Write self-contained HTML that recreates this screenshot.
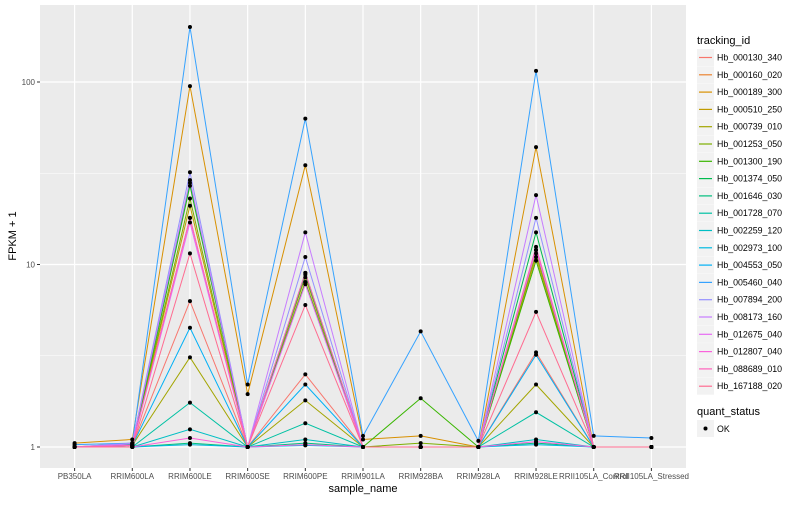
<!DOCTYPE html>
<html><head><meta charset="utf-8"><style>
body{margin:0;background:#fff;}
svg text{font-family:"Liberation Sans",sans-serif;}
</style></head><body>
<svg id="chart" width="800" height="500"></svg>
<script>
const samples=["PB350LA","RRIM600LA","RRIM600LE","RRIM600SE","RRIM600PE","RRIM901LA","RRIM928BA","RRIM928LA","RRIM928LE","RRII105LA_Control","RRII105LA_Stressed"];
const ids=["Hb_000130_340","Hb_000160_020","Hb_000189_300","Hb_000510_250","Hb_000739_010","Hb_001253_050","Hb_001300_190","Hb_001374_050","Hb_001646_030","Hb_001728_070","Hb_002259_120","Hb_002973_100","Hb_004553_050","Hb_005460_040","Hb_007894_200","Hb_008173_160","Hb_012675_040","Hb_012807_040","Hb_088689_010","Hb_167188_020"];
const s00=[1.0,1.02,6.3,1.0,2.5,1.0,1.0,1.0,3.3,1.0,1.0];
const s01=[1.0,1.05,18,1.0,8.0,1.0,1.0,1.0,12,1.0,1.0];
const s02=[1.05,1.1,95,1.95,35,1.1,1.15,1.0,44,1.0,1.0];
const s03=[1.0,1.03,21,1.0,8.5,1.0,1.0,1.0,11,1.0,1.0];
const s04=[1.0,1.02,3.1,1.0,1.8,1.0,1.0,1.0,2.2,1.0,1.0];
const s05=[1.0,1.02,23,1.0,9.0,1.0,1.05,1.0,11.5,1.0,1.0];
const s06=[1.0,1.0,27,1.0,8.0,1.0,1.85,1.0,10.5,1.0,1.0];
const s07=[1.0,1.03,28,1.0,8.8,1.0,1.0,1.0,15,1.0,1.0];
const s08=[1.0,1.0,1.05,1.0,1.05,1.0,1.0,1.0,1.05,1.0,1.0];
const s09=[1.0,1.0,1.75,1.0,1.35,1.0,1.0,1.0,1.55,1.0,1.0];
const s10=[1.0,1.0,1.25,1.0,1.1,1.0,1.0,1.0,1.1,1.0,1.0];
const s11=[1.0,1.0,1.03,1.0,1.02,1.0,1.0,1.0,1.03,1.0,1.0];
const s12=[1.0,1.02,4.5,1.0,2.2,1.0,1.0,1.0,3.2,1.0,1.0];
const s13=[1.03,1.05,200,2.2,63,1.15,4.3,1.08,115,1.15,1.12];
const s14=[1.0,1.05,32,1.0,11,1.0,1.0,1.0,18,1.0,1.0];
const s15=[1.0,1.04,29,1.0,15,1.0,1.0,1.0,24,1.0,1.0];
const s16=[1.0,1.02,17,1.0,7.8,1.0,1.0,1.0,12,1.0,1.0];
const s17=[1.0,1.0,1.12,1.0,1.03,1.0,1.0,1.0,1.07,1.0,1.0];
const s18=[1.0,1.02,18,1.0,9.0,1.0,1.0,1.0,12.5,1.0,1.0];
const s19=[1.0,1.0,11.5,1.0,6.0,1.0,1.0,1.0,5.5,1.0,1.0];
const series=[s00,s01,s02,s03,s04,s05,s06,s07,s08,s09,s10,s11,s12,s13,s14,s15,s16,s17,s18,s19];
const yTicks=[1,10,100];
const yTickLabels=["1","10","100"];
const colors=["#F8766D","#EA8331","#D89000","#C09B00","#A3A500","#7CAE00","#39B600","#00BB4E","#00BF7D","#00C1A3","#00BFC4","#00BAE0","#00B0F6","#35A2FF","#9590FF","#C77CFF","#E76BF3","#FA62DB","#FF62BC","#FF6C91"];

const NS="http://www.w3.org/2000/svg";
const svg=document.getElementById('chart');
function mk(tag,attrs,parent){const e=document.createElementNS(NS,tag);for(const k in attrs)e.setAttribute(k,attrs[k]);(parent||svg).appendChild(e);return e;}
const L=40,R=686,T=5,B=468;
const step=(R-L)/(samples.length-1+1.2);
function xs(i){return L+0.6*step+i*step;}
function ys(v){return 447-Math.log10(v)*182.5;}

const panel=mk('rect',{x:L,y:T,width:R-L,height:B-T,fill:'#ebebeb'});

[0.5,1.5].forEach(e=>{const l=mk('line',{x1:L,x2:R,y1:ys(Math.pow(10,e)),y2:ys(Math.pow(10,e)),stroke:'#fff','stroke-width':0.6});
});
yTicks.forEach((v,i)=>{const y=ys(v);
 const g=mk('line',{x1:L,x2:R,y1:y,y2:y,stroke:'#fff','stroke-width':1.2});
 
 const tk=mk('line',{x1:L-3,x2:L,y1:y,y2:y,stroke:'#333','stroke-width':1});
 
 const t=mk('text',{x:L-5,y:y+3,'text-anchor':'end','font-size':8,fill:'#4d4d4d'});t.textContent=yTickLabels[i];
 });
samples.forEach((s,i)=>{const x=xs(i);
 const g=mk('line',{x1:x,x2:x,y1:T,y2:B,stroke:'#fff','stroke-width':1.2});
 
 const tk=mk('line',{x1:x,x2:x,y1:B,y2:B+3,stroke:'#333','stroke-width':1});
 
 const t=mk('text',{x:x,y:B+11,'text-anchor':'middle','font-size':8,fill:'#4d4d4d'});t.textContent=s;
 });
series.forEach((vals,k)=>{
 const p=mk('polyline',{points:vals.map((v,i)=>xs(i)+','+ys(v)).join(' '),fill:'none',stroke:colors[k],'stroke-width':1});
 });
series.forEach((vals,k)=>{vals.forEach((v,i)=>{
 const c=mk('circle',{cx:xs(i),cy:ys(v),r:2,fill:'#000'});
 });});
const yt=mk('text',{x:16,y:236,'text-anchor':'middle','font-size':11,fill:'#000',transform:'rotate(-90 16 236)'});yt.textContent='FPKM + 1';

const xt=mk('text',{x:363,y:492,'text-anchor':'middle','font-size':11,fill:'#000'});xt.textContent='sample_name';

const lt=mk('text',{x:697,y:44,'font-size':11,fill:'#000'});lt.textContent='tracking_id';

ids.forEach((id,k)=>{const y=49+k*17.3;
 const b=mk('rect',{x:697,y:y,width:17,height:17,fill:'#f2f2f2'});
 
 const l=mk('line',{x1:699,x2:712,y1:y+8.5,y2:y+8.5,stroke:colors[k],'stroke-width':1.2});
 
 const t=mk('text',{x:717,y:y+11.5,'font-size':8.8,fill:'#000'});t.textContent=id;
 });
const qt=mk('text',{x:697,y:415,'font-size':11,fill:'#000'});qt.textContent='quant_status';

const qb=mk('rect',{x:697,y:420,width:17,height:17,fill:'#f2f2f2'});

const qd=mk('circle',{cx:705.5,cy:428.5,r:2,fill:'#000'});

const qx=mk('text',{x:717,y:432,'font-size':8.8,fill:'#000'});qx.textContent='OK';

</script>
</body></html>
